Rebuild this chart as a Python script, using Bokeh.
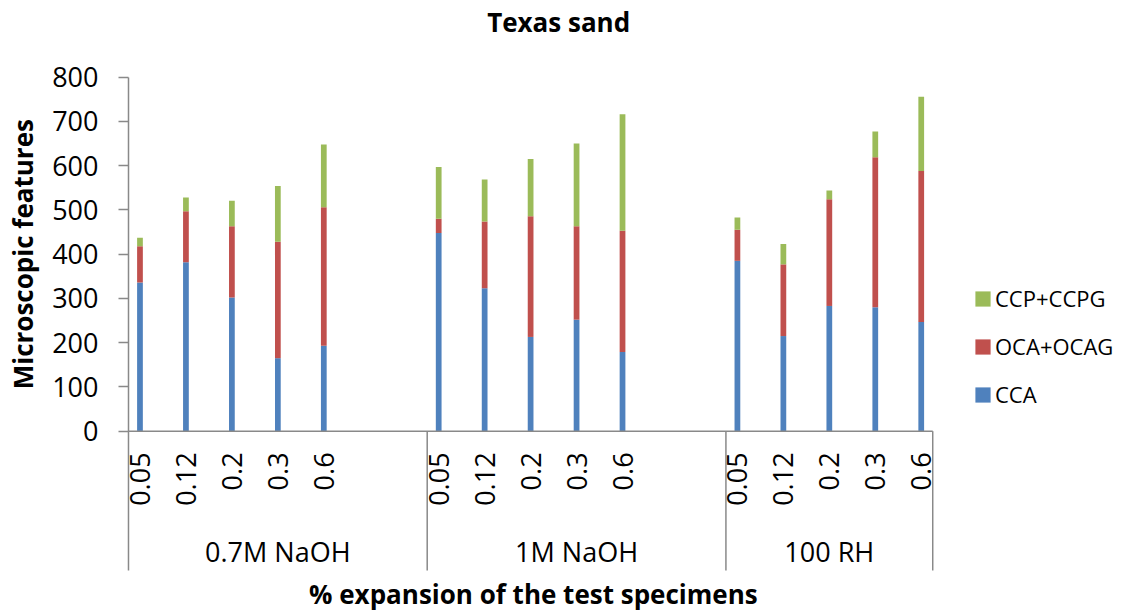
from math import pi
from bokeh.plotting import figure
from bokeh.models import Range1d, FixedTicker, Legend, LegendItem, ColumnDataSource
from bokeh.core.properties import value
from bokeh.embed import file_html
from bokeh.resources import INLINE

# ---------------- data ----------------
groups = ["0.7M NaOH", "1M NaOH", "100 RH"]
expansions = ["0.05", "0.12", "0.2", "0.3", "0.6"]
CCA = [336, 382, 302, 165, 193,
       448, 323, 213, 252, 179,
       385, 215, 283, 280, 247]
OCA_OCAG = [82, 115, 161, 263, 313,
            32, 151, 273, 211, 274,
            70, 162, 241, 339, 341]
CCP_CCPG = [19, 31, 58, 126, 142,
            117, 95, 129, 187, 263,
            28, 46, 20, 58, 168]
series = ["CCA", "OCA+OCAG", "CCP+CCPG"]
y_ticks = [0, 100, 200, 300, 400, 500, 600, 700, 800]
chart_title = "Texas sand"
x_title = "% expansion of the test specimens"
y_title = "Microscopic features"

# ---------------- layout / style ----------------
colors = ["#4F81BD", "#C0504D", "#9BBB59"]
AXIS_COLOR = "#898989"
FONT = "Open Sans"
GROUP_SLOTS = [6.5, 6.5, 4.5]   # width of each group on the category axis
BAR_OFFSET = 0.25
BAR_WIDTH = 0.125
Y_MAX = 800
Y_SEP = -314.8                  # lower end of the group separators
X_END = sum(GROUP_SLOTS)

starts = []
acc = 0.0
for w in GROUP_SLOTS:
    starts.append(acc)
    acc += w
bounds = starts + [X_END]
centers = [s + w / 2 for s, w in zip(starts, GROUP_SLOTS)]

xs, xlabels = [], []
for g, s in enumerate(starts):
    for i, e in enumerate(expansions):
        xs.append(s + BAR_OFFSET + i)
        xlabels.append(e)

src = ColumnDataSource(dict(x=xs, CCA=CCA, OCA=OCA_OCAG, CCP=CCP_CCPG, lab=xlabels))

p = figure(width=1128, height=613,
           x_range=Range1d(-2.785, 21.76), y_range=Range1d(-412.0, 973.3),
           min_border_left=0, min_border_right=0, min_border_top=0, min_border_bottom=0,
           x_axis_location=None, output_backend="svg", toolbar_location=None)
p.xgrid.visible = False
p.ygrid.visible = False
p.outline_line_color = None
p.background_fill_color = "white"
p.border_fill_color = "white"

rs = p.vbar_stack(["CCA", "OCA", "CCP"], x="x", width=BAR_WIDTH, source=src,
                  color=colors, line_color=None)

# value axis, pinned at the start of the category axis
ya = p.yaxis[0]
ya.fixed_location = 0
ya.bounds = (0, Y_MAX)
ya.ticker = FixedTicker(ticks=y_ticks)
ya.axis_line_color = AXIS_COLOR
ya.axis_line_width = 1.5
ya.major_tick_line_color = AXIS_COLOR
ya.major_tick_line_width = 1.5
ya.major_tick_out = 10
ya.major_tick_in = 0
ya.minor_tick_out = 0
ya.minor_tick_in = 0
ya.major_label_standoff = 20
ya.major_label_text_font = FONT
ya.major_label_text_font_size = "27px"
ya.major_label_text_color = "black"

# category axis: base line at zero + group separators
p.segment(x0=[0], x1=[X_END], y0=[0], y1=[0], line_color=AXIS_COLOR, line_width=1.5)
p.segment(x0=bounds, x1=bounds, y0=[0] * len(bounds), y1=[Y_SEP] * len(bounds),
          line_color=AXIS_COLOR, line_width=1.5)

# tick labels (inner level) and group labels (outer level)
p.text(x="x", y=-48, text="lab", source=src, angle=pi / 2,
       text_align="right", text_baseline="middle",
       text_font=value(FONT), text_font_size="27px", text_color="black")
p.text(x=centers, y=[-271] * len(centers), text=groups,
       text_align="center", text_baseline="alphabetic",
       text_font=value(FONT), text_font_size="27px", text_color="black")

# titles
bold = dict(text_baseline="alphabetic", text_font=value(FONT), text_font_size="26px",
            text_font_style="bold", text_color="black", text_align="center")
p.text(x=[9.36], y=[924.3], text=[chart_title], **bold)
p.text(x=[8.81], y=[-368.5], text=[x_title], **bold)
p.text(x=[-2.285], y=[400], text=[y_title], angle=pi / 2, **bold)

# legend (reverse order, as in the original)
items = [LegendItem(label=series[k], renderers=[rs[k]]) for k in (2, 1, 0)]
legend = Legend(items=items, location=(973, 204), orientation="vertical",
                glyph_width=19, glyph_height=19, label_standoff=3, spacing=18,
                padding=0, margin=0, border_line_color=None, background_fill_alpha=0,
                label_text_font=FONT, label_text_font_size="22px",
                label_text_color="black")
p.add_layout(legend, "center")

open("out.html", "w").write(file_html(p, INLINE))
